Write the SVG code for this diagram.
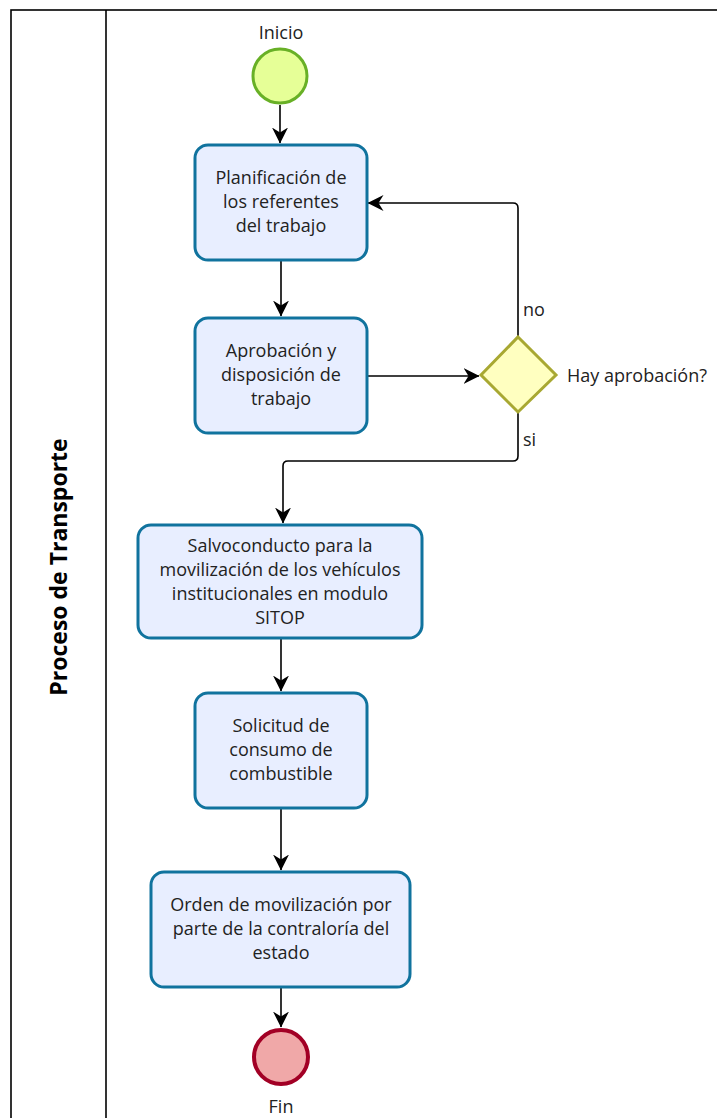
<svg xmlns="http://www.w3.org/2000/svg" width="717" height="1118" viewBox="0 0 717 1118">
<style>
text{font-family:"Open Sans","Noto Sans","Liberation Sans",sans-serif;font-size:18px;fill:#222}
.t{text-anchor:middle}
.task{fill:#E8EEFF;stroke:#10739E;stroke-width:3}
.edge{fill:none;stroke:#000;stroke-width:1.6}
</style>
<defs>
<marker id="arr" viewBox="0 0 16 18" refX="15.5" refY="9" markerWidth="16" markerHeight="18" markerUnits="userSpaceOnUse" orient="auto">
<path d="M0,1 L16,9 L0,17 L5,9 Z" fill="#000"/>
</marker>
</defs>
<rect width="717" height="1118" fill="#fff"/>
<g id="lane">
<rect x="11" y="10" width="730" height="1130" fill="none" stroke="#000" stroke-width="1.6"/>
<line x1="106" y1="10" x2="106" y2="1118" stroke="#000" stroke-width="1.6"/>
<text transform="translate(67,567) rotate(-90)" class="t" style="font-weight:bold;font-size:23px;fill:#000">Proceso de Transporte</text>
</g>
<g id="connectors">
<path class="edge" d="M280,105 V143" marker-end="url(#arr)"/>
<path class="edge" d="M281,260 V316" marker-end="url(#arr)"/>
<path class="edge" d="M367,376 H479" marker-end="url(#arr)"/>
<path class="edge" d="M518,337 V208 Q518,203 513,203 H368" marker-end="url(#arr)"/>
<path class="edge" d="M518,412 V456 Q518,461 513,461 H288 Q283,461 283,466 V523" marker-end="url(#arr)"/>
<path class="edge" d="M281,638 V691" marker-end="url(#arr)"/>
<path class="edge" d="M281,808 V870" marker-end="url(#arr)"/>
<path class="edge" d="M281,987 V1027" marker-end="url(#arr)"/>
<text x="523" y="316">no</text>
<text x="523" y="446">si</text>
</g>
<g id="inicio">
<circle cx="280" cy="76" r="27" fill="#E6FF97" stroke="#68B026" stroke-width="3"/>
<text x="281" y="39" class="t">Inicio</text>
</g>
<g id="planificacion">
<rect class="task" x="195" y="145" width="172" height="115" rx="13"/>
<text class="t" x="281" y="184">Planificación de</text>
<text class="t" x="281" y="208">los referentes</text>
<text class="t" x="281" y="232">del trabajo</text>
</g>
<g id="aprobacion">
<rect class="task" x="195" y="318" width="172" height="115" rx="13"/>
<text class="t" x="281" y="357">Aprobación y</text>
<text class="t" x="281" y="381">disposición de</text>
<text class="t" x="281" y="405">trabajo</text>
</g>
<g id="gateway">
<polygon points="518,337 556,375 518,412 481,375" fill="#FFFFC0" stroke="#A8A832" stroke-width="3"/>
<text x="567" y="382">Hay aprobación?</text>
</g>
<g id="salvoconducto">
<rect class="task" x="138" y="525" width="284" height="113" rx="13"/>
<text class="t" x="280" y="552">Salvoconducto para la</text>
<text class="t" x="280" y="576">movilización de los vehículos</text>
<text class="t" x="280" y="600">institucionales en modulo</text>
<text class="t" x="280" y="624">SITOP</text>
</g>
<g id="solicitud">
<rect class="task" x="195" y="693" width="172" height="115" rx="13"/>
<text class="t" x="281" y="732">Solicitud de</text>
<text class="t" x="281" y="756">consumo de</text>
<text class="t" x="281" y="780">combustible</text>
</g>
<g id="orden">
<rect class="task" x="151" y="872" width="259" height="115" rx="13"/>
<text class="t" x="281" y="911">Orden de movilización por</text>
<text class="t" x="281" y="935">parte de la contraloría del</text>
<text class="t" x="281" y="959">estado</text>
</g>
<g id="fin">
<circle cx="281" cy="1057" r="27" fill="#F0A8A8" stroke="#A20025" stroke-width="4"/>
<text x="281" y="1113" class="t">Fin</text>
</g>
</svg>
